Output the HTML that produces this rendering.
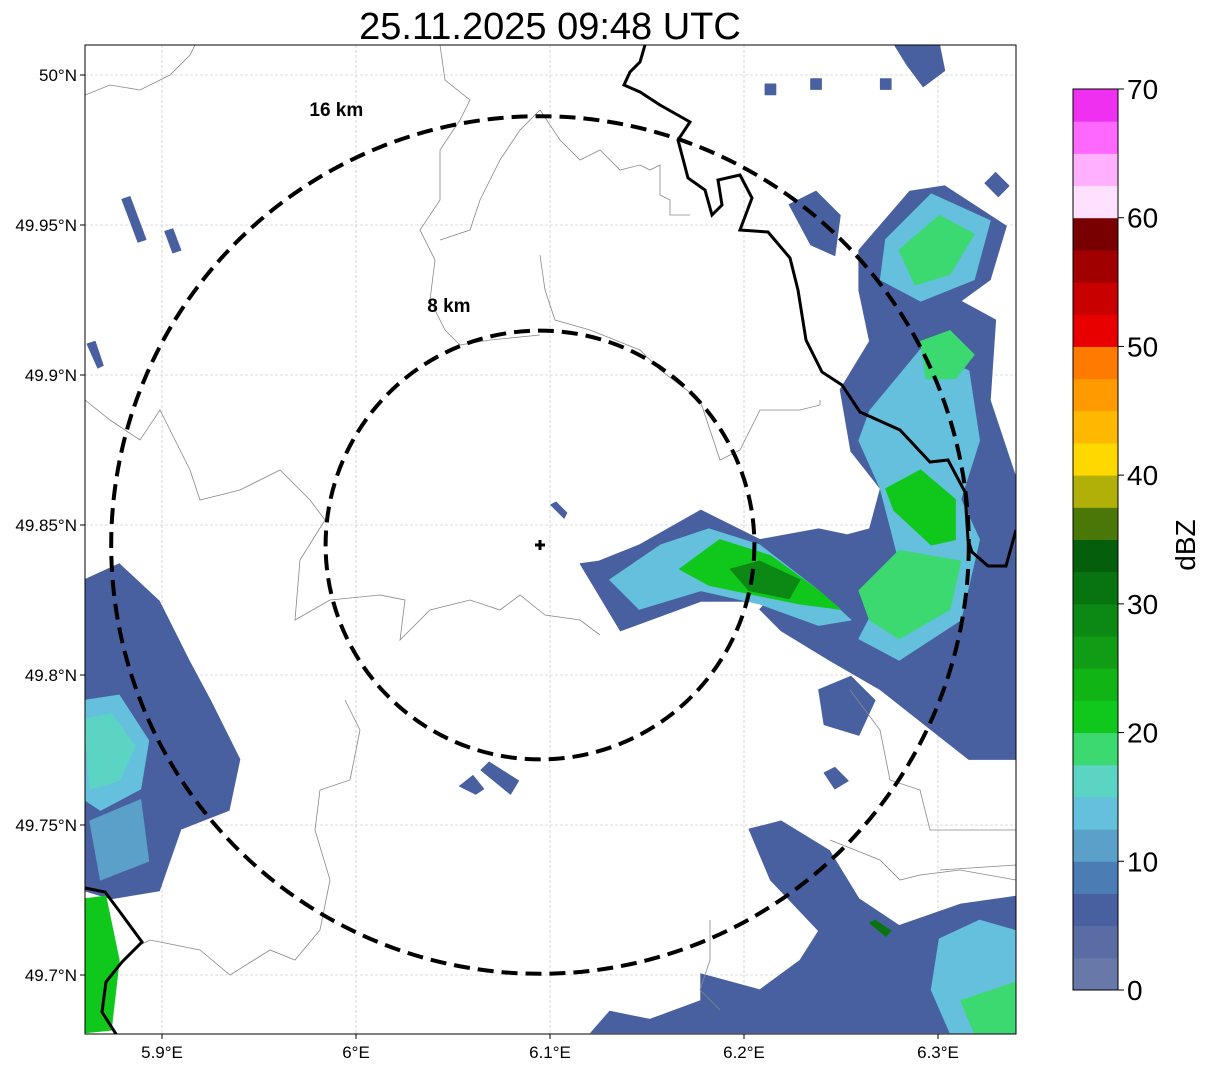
<!DOCTYPE html>
<html><head><meta charset="utf-8"><style>
html,body{margin:0;padding:0;background:#fff;width:1207px;height:1069px;overflow:hidden}
svg{display:block;font-family:"Liberation Sans","DejaVu Sans",sans-serif}
</style></head><body>
<svg id="chart" width="1207" height="1069" viewBox="0 0 1207 1069">
<text x="550" y="39" font-size="38" text-anchor="middle" fill="#000">25.11.2025 09:48 UTC</text>
<defs><clipPath id="plotclip"><rect x="85" y="45" width="931" height="989"/></clipPath></defs>
<g id="grid"></g>
<g id="echoes" clip-path="url(#plotclip)"></g>
<g clip-path="url(#plotclip)">
<path fill="none" stroke="#888" stroke-width="0.8" d="M85,95 L110,85 L140,90 L170,75 L190,55 L195,45 M85,400 L110,420 L140,440 L160,410 L170,430 L190,470 L200,500 L240,490 L280,470 L310,500 L325,520 L300,560 L295,620 L330,600 L380,595 L405,600 L400,640 L430,610 L470,600 L500,610 L520,595 L545,615 L580,620 L600,635 M440,45 L445,80 L470,100 L460,120 L440,150 L440,200 L420,230 L435,260 L430,300 L445,330 L460,345 L490,340 L540,335 M540,110 L520,130 L500,160 L480,200 L470,230 L440,240 M540,110 L560,140 L580,160 L600,150 L620,170 L640,165 L650,170 L660,165 L660,195 L670,200 L670,215 L690,215 M540,255 L545,290 L555,320 L590,330 L640,350 L660,370 L700,400 L720,460 L740,450 L760,410 L800,410 L820,405 L820,400 M345,700 L360,730 L350,780 L320,790 L315,830 L330,880 L320,930 L295,960 L270,950 L230,975 L200,950 L150,940 L140,945 M710,920 L710,960 L700,990 L720,1010 M830,840 L880,860 L900,880 L920,875 L960,870 L1016,880 M850,690 L880,730 L890,780 L920,790 L930,830 L1016,830 M940,870 L1016,865"/>
<path fill="none" stroke="#000" stroke-width="3" d="M645,45 L640,62 L630,72 L624,85 L640,92 L660,105 L690,122 L678,140 L688,178 L705,190 L712,215 L722,205 L718,180 L740,175 L752,198 L740,230 L768,232 L790,258 L798,290 L806,340 L822,372 L842,385 L860,412 L900,430 L930,462 L948,460 L965,492 L968,540 L972,552 L988,566 L1006,566 L1016,530"/>
<path fill="none" stroke="#000" stroke-width="3" d="M85,888 L105,892 L120,912 L142,942 L122,962 L106,982 L102,1012 L116,1034"/>
</g>
<g id="rings"></g>
<rect x="85" y="45" width="931" height="989" fill="none" stroke="#000" stroke-width="1"/>
<g id="axes"></g>
<g id="cbar"></g>
<text x="1195" y="545" font-size="28" text-anchor="middle" transform="rotate(-90 1195 545)">dBZ</text>
</svg>
<script>
// ---- data ----
var lonTicks = [5.9, 6.0, 6.1, 6.2, 6.3];
var lonLabels = ["5.9°E", "6°E", "6.1°E", "6.2°E", "6.3°E"];
var latTicks = [50.0, 49.95, 49.9, 49.85, 49.8, 49.75, 49.7];
var latLabels = ["50°N", "49.95°N", "49.9°N", "49.85°N", "49.8°N", "49.75°N", "49.7°N"];
var ringKm = [8, 16];
var ringLabels = ["8 km", "16 km"];
var ringLabelKmX = [-3.4, -7.6];
var ringLabelKmY = [8.7, 16.0];
var cbarTicks = [0, 10, 20, 30, 40, 50, 60, 70];
var binColors = ["#6878a8","#5a6ca4","#4860a0","#4c7cb4","#5aa0c8","#64c0dc","#5cd4c4","#3cd870","#10c81c","#10b414","#109c14","#0c8814","#087410","#045e0c","#4a7808","#b0b008","#ffd800","#ffb800","#ff9a00","#ff7a00","#e80000","#c80000","#a00000","#780000","#ffe0ff","#ffb0ff","#ff68ff","#f030f0"];
// echo polygons: reflectivity (dBZ) and vertices as [east km, north km] from radar
var polyDbz = [5,5,13,18,13,18,21,18,13,21,28,5,13,16,11,21,5,13,18,5,5,5,5,5,5,5,5,5,5,5,5,5,5,5,32];
var polyPts = [
 [[11.9,11.0],[13.8,13.2],[15.1,13.4],[17.4,11.9],[16.8,9.9],[15.7,9.1],[17.0,8.4],[16.8,5.4],[17.8,2.4],[17.8,-8.0],[16.0,-8.0],[14.6,-6.9],[12.7,-5.4],[10.8,-4.3],[9.0,-3.2],[8.2,-2.4],[10.8,0.2],[12.3,0.6],[12.7,2.1],[11.6,3.5],[11.2,5.8],[12.3,7.6],[11.9,9.5]],
 [[1.5,-0.7],[3.0,-3.2],[6.0,-2.1],[8.2,-2.1],[11.6,-3.9],[13.4,-5.0],[12.3,0.2],[10.4,0.6],[8.2,0.2],[6.0,1.3],[3.7,0],[2.2,-0.6]],
 [[12.9,11.4],[14.6,13.1],[16.8,12.1],[16.2,9.9],[14.2,9.1],[12.7,9.9]],
 [[13.4,11.0],[14.9,12.3],[16.2,11.6],[15.3,10.1],[14.0,9.7]],
 [[12.3,5.0],[14.2,7.3],[16.0,6.5],[16.4,3.9],[15.7,1.7],[16.4,0.2],[15.7,-2.8],[13.4,-4.3],[11.9,-3.5],[13.4,-0.6],[12.7,2.1],[11.9,3.9]],
 [[14.2,7.6],[15.3,8.0],[16.2,7.1],[15.5,6.2],[14.4,6.2]],
 [[12.9,2.1],[14.2,2.8],[15.5,1.7],[15.5,0.2],[14.6,0],[13.2,1.3]],
 [[11.9,-1.7],[13.4,-0.2],[15.7,-0.6],[15.3,-2.4],[13.4,-3.5],[12.3,-2.8]],
 [[2.6,-1.3],[4.5,0],[6.3,0.6],[8.2,0],[10.4,-1.7],[11.6,-2.8],[10.4,-3.0],[8.2,-2.2],[6.0,-1.7],[3.7,-2.4]],
 [[5.2,-0.9],[6.7,0.2],[8.6,-0.4],[10.4,-1.7],[11.2,-2.4],[9.7,-2.2],[8.2,-1.9],[6.3,-1.5]],
 [[7.1,-0.9],[8.2,-0.6],[9.7,-1.3],[9.3,-2.0],[7.8,-1.7]],
 [[-17.0,-1.3],[-15.7,-0.7],[-14.2,-2.1],[-13.1,-4.3],[-12.3,-5.8],[-11.2,-8.0],[-11.6,-9.9],[-13.4,-10.6],[-14.2,-12.9],[-16.0,-13.2],[-17.0,-12.9]],
 [[-17.0,-5.8],[-15.7,-5.6],[-14.6,-7.3],[-14.9,-9.1],[-16.4,-9.9],[-17.0,-9.5]],
 [[-17.0,-6.5],[-16.0,-6.3],[-15.1,-7.5],[-15.7,-8.8],[-16.8,-9.1]],
 [[-16.8,-10.3],[-14.9,-9.5],[-14.6,-11.8],[-16.4,-12.5]],
 [[-17.0,-13.2],[-16.2,-13.1],[-15.7,-15.5],[-16.0,-18.1],[-17.0,-18.2]],
 [[6.0,-16.0],[8.2,-16.6],[9.7,-15.5],[10.4,-14.4],[8.6,-12.5],[7.8,-10.6],[9.0,-10.3],[10.8,-11.4],[11.9,-13.2],[13.4,-14.2],[15.7,-13.4],[17.8,-13.1],[17.8,-18.2],[1.9,-18.2],[2.6,-17.4],[4.1,-17.7],[6.0,-17.0]],
 [[14.9,-14.7],[16.4,-14.0],[17.8,-14.4],[17.8,-18.2],[15.3,-18.2],[14.6,-16.6]],
 [[15.7,-17.0],[17.8,-16.3],[17.8,-18.2],[16.2,-18.2]],
 [[9.3,12.7],[10.3,13.2],[11.2,12.3],[11.0,10.8],[10.1,11.2]],
 [[10.4,-5.4],[11.6,-4.9],[12.5,-5.8],[11.9,-7.1],[10.6,-6.7]],
 [[13.2,18.7],[14.9,18.7],[15.1,17.7],[14.3,17.1],[13.7,17.9]],
 [[-15.6,12.9],[-15.3,13.0],[-14.7,11.4],[-15.0,11.3]],
 [[-14.0,11.7],[-13.7,11.8],[-13.4,11.0],[-13.7,10.9]],
 [[-16.9,7.5],[-16.6,7.6],[-16.3,6.7],[-16.5,6.6]],
 [[0.4,1.5],[0.6,1.6],[1.0,1.2],[0.9,1.0]],
 [[-3.0,-9.0],[-2.5,-8.6],[-2.1,-9.1],[-2.4,-9.3]],
 [[-2.2,-8.4],[-1.9,-8.1],[-0.8,-8.8],[-1.1,-9.3]],
 [[8.4,17.2],[8.8,17.2],[8.8,16.8],[8.4,16.8]],
 [[10.1,17.4],[10.5,17.4],[10.5,17.0],[10.1,17.0]],
 [[12.7,17.4],[13.1,17.4],[13.1,17.0],[12.7,17.0]],
 [[16.6,13.5],[17.0,13.9],[17.5,13.4],[17.1,13.0]],
 [[10.6,-8.5],[11.0,-8.3],[11.5,-8.8],[11.0,-9.1]],
 [[-12.5,-7.0],[-12.2,-6.9],[-11.6,-7.7],[-11.9,-7.9]],
 [[12.3,-14.1],[12.5,-14.0],[13.1,-14.4],[12.9,-14.6]]
];
// ---- axis functions ----
var NS = "http://www.w3.org/2000/svg";
function lonX(lon){ return 356 + (lon - 6.0) * 1940; }
function latY(lat){ return 75 + (50.0 - lat) * 3000; }
var radarX = 540, radarY = 545, pxPerKm = 26.8;
function kmX(k){ return radarX + k * pxPerKm; }
function kmY(k){ return radarY - k * pxPerKm; }
function binColor(d){ var i = Math.floor(d / 2.5); if(i<0)i=0; if(i>27)i=27; return binColors[i]; }
function cbY(d){ return 990 - d * (901 / 70); }
function mk(tag, attrs, parent){ var e = document.createElementNS(NS, tag); for (var k in attrs) e.setAttribute(k, attrs[k]); parent.appendChild(e); return e; }

// grid
var grid = document.getElementById('grid');
lonTicks.forEach(function(v){
  var l = mk('line', {x1:lonX(v), x2:lonX(v), y1:45, y2:1034, stroke:'#bbb', 'stroke-width':0.6, 'stroke-dasharray':'3,2'}, grid);
  
  
});
latTicks.forEach(function(v){
  var l = mk('line', {x1:85, x2:1016, y1:latY(v), y2:latY(v), stroke:'#bbb', 'stroke-width':0.6, 'stroke-dasharray':'3,2'}, grid);
  
  
});

// echoes
var eg = document.getElementById('echoes');
polyPts.forEach(function(pts, i){
  var s = pts.map(function(p){ return kmX(p[0]).toFixed(1) + ',' + kmY(p[1]).toFixed(1); }).join(' ');
  var p = mk('polygon', {points:s, fill:binColor(polyDbz[i]), stroke:binColor(polyDbz[i]), 'stroke-width':1, 'stroke-linejoin':'round'}, eg);
  
  
});

// rings
var rg = document.getElementById('rings');
ringKm.forEach(function(r, i){
  var c = mk('circle', {cx:radarX, cy:radarY, r:r*pxPerKm, fill:'none', stroke:'#000', 'stroke-width':4, 'stroke-dasharray':'16,8'}, rg);
  
  
  var t = mk('text', {x:kmX(ringLabelKmX[i]), y:kmY(ringLabelKmY[i]), 'font-size':19, 'font-weight':'bold', 'text-anchor':'middle'}, rg);
  t.textContent = ringLabels[i];
  
  
});
var rm = mk('path', {d:'M'+(radarX-5)+','+radarY+' h10 M'+radarX+','+(radarY-5)+' v10', stroke:'#000', 'stroke-width':3}, rg);



// axes labels
var ax = document.getElementById('axes');
lonTicks.forEach(function(v, i){
  var x = lonX(v);
  var tk = mk('line', {x1:x, x2:x, y1:1034, y2:1039, stroke:'#000', 'stroke-width':1}, ax);
  
  
  var t = mk('text', {x:x, y:1058, 'font-size':17, 'text-anchor':'middle'}, ax);
  t.textContent = lonLabels[i];
  
  
});
latTicks.forEach(function(v, i){
  var y = latY(v);
  var tk = mk('line', {x1:80, x2:85, y1:y, y2:y, stroke:'#000', 'stroke-width':1}, ax);
  
  
  var t = mk('text', {x:77, y:y+6, 'font-size':17, 'text-anchor':'end'}, ax);
  t.textContent = latLabels[i];
  
  
});

// colorbar
var cb = document.getElementById('cbar');
binColors.forEach(function(c, i){
  var y0 = cbY((i+1)*2.5), y1 = cbY(i*2.5);
  var r = mk('rect', {x:1073, y:y0, width:45, height:y1-y0+0.5, fill:c}, cb);
  
  
});
var fr = mk('rect', {x:1073, y:89, width:45, height:901, fill:'none', stroke:'#000', 'stroke-width':1}, cb);


cbarTicks.forEach(function(v){
  var y = cbY(v);
  var tk = mk('line', {x1:1118, x2:1124, y1:y, y2:y, stroke:'#000', 'stroke-width':1}, cb);
  
  
  var t = mk('text', {x:1127, y:y+10, 'font-size':28}, cb);
  t.textContent = String(v);
  
  
});
</script>
</body></html>
